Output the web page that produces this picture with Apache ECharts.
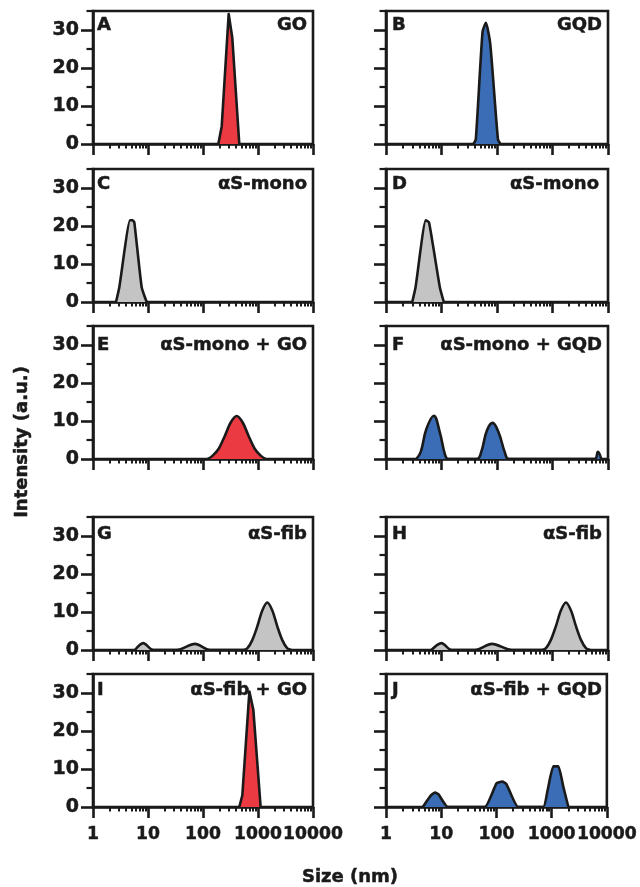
<!DOCTYPE html>
<html><head><meta charset="utf-8">
<script src="https://cdn.jsdelivr.net/npm/echarts@6/dist/echarts.min.js"></script>
<style>html,body{margin:0;padding:0;background:#fff}#c{width:640px;height:887px}</style>
</head><body><div id="c"></div>
<script>
// ---- tick labels ----
const xTicks = [1, 10, 100, 1000, 10000];
const yTicks = [0, 10, 20, 30];
const yMinorTicks = [5, 15, 25, 35];
const minorMultipliers = [2, 3, 4, 5, 6, 7, 8, 9];

// ---- panel labels ----
const panelLetters = ['A', 'B', 'C', 'D', 'E', 'F', 'G', 'H', 'I', 'J'];
const panelTitles = ['GO', 'GQD', 'αS-mono', 'αS-mono', 'αS-mono + GO', 'αS-mono + GQD',
  'αS-fib', 'αS-fib', 'αS-fib + GO', 'αS-fib + GQD'];

// ---- series data: size (nm) and intensity (a.u.) ----
const A_size = [190, 219, 293, 341, 457];
const A_int  = [0, 4.7, 34.2, 27.9, 0];
const B_size = [37.7, 41.5, 54.9, 63, 75.5, 104, 115];
const B_int  = [0, 1.2, 29.5, 31.9, 26.4, 1.2, 0];
const C_size = [2.62, 3.01, 4.71, 5.26, 5.65, 7.67, 9.46];
const C_int  = [0, 3.9, 21.5, 21.5, 20.9, 3.9, 0];
const D_size = [2.97, 3.41, 5.19, 5.97, 9.33, 11.0];
const D_int  = [0, 3.9, 21.5, 20.9, 3.9, 0];
const E_size = [122, 150, 193, 248, 319, 410, 527, 678, 871, 1119, 1380];
const E_int  = [0, 0.9, 2.7, 6.0, 9.6, 11.3, 9.6, 6.0, 2.7, 0.9, 0];
const F_size = [3.51, 4.21, 5.34, 7.26, 9.33, 11.5, 13.2, 43.3, 51.9, 65.8, 83.4, 107, 138, 163, 5730, 6580, 7560];
const F_int  = [0, 1.8, 7.9, 11.4, 7.0, 1.3, 0, 0, 1.8, 7.5, 9.5, 7.0, 1.8, 0, 0, 1.9, 0];
const G_size = [5.8, 8.2, 12.5, 33.2, 71.6, 134, 541, 638, 787, 971, 1197, 1476, 1820, 2244, 2767, 3412, 4027];
const G_int  = [0, 1.8, 0, 0, 1.6, 0, 0, 0.4, 2.6, 6.2, 10.4, 12.5, 10.4, 6.2, 2.6, 0.4, 0];
const H_size = [6.58, 10, 15.2, 40.3, 81.1, 187, 640, 755, 931, 1148, 1416, 1746, 2153, 2655, 3273, 4036, 4764];
const H_int  = [0, 1.8, 0, 0, 1.6, 0, 0, 0.4, 2.6, 6.2, 10.4, 12.5, 10.4, 6.2, 2.6, 0.4, 0];
const I_size = [457, 519, 697, 822, 1117];
const I_int  = [0, 3.1, 30.4, 25.6, 0];
const J_size = [4.64, 6.58, 7.78, 8.95, 13.2, 61.4, 100, 127, 152, 248, 705, 845, 1072, 1322, 1630, 2010];
const J_int  = [0, 3.1, 3.8, 3.3, 0, 0, 6.2, 6.7, 6.0, 0, 0, 4.4, 10.7, 10.7, 5.3, 0];

const panelSizes = [A_size, B_size, C_size, D_size, E_size, F_size, G_size, H_size, I_size, J_size];
const panelInts  = [A_int, B_int, C_int, D_int, E_int, F_int, G_int, H_int, I_int, J_int];

// ---- styles & layout ----
const RED = '#EC3A42', BLUE = '#3A6DB5', GRAY = '#C4C4C4', INK = '#1a1a1a';
const panelFill = [RED, BLUE, GRAY, GRAY, RED, BLUE, GRAY, GRAY, RED, BLUE];
const panelSmooth = [0, 0.2, 0.15, 0.15, 0.3, 0.4, 0.3, 0.3, 0, 0.15];
const FONT = '"DejaVu Sans", "Liberation Sans", sans-serif';
const colLeft = [93, 386], colWidth = [220, 222];
const rowTop = [11, 169, 326, 517, 674], plotH = 133;
const labelOffset = [14.5, 15, 19, 17.5, 16];
const titleInset = [6, 6, 6, 9, 6, 6, 6, 6, 6, 6];
const TXT = { color: INK, fontFamily: FONT, fontWeight: 'bold', textBorderColor: INK, textBorderWidth: 0.5 };

const minorX = [];
for (let d = 0; d < xTicks.length - 1; d++) {
  minorMultipliers.forEach(m => minorX.push(Math.log10(m * xTicks[d])));
}

const grids = [], xAxes = [], yAxes = [], series = [], graphics = [];
for (let i = 0; i < 10; i++) {
  const row = Math.floor(i / 2), col = i % 2;
  const left = colLeft[col], top = rowTop[row], width = colWidth[col];
  grids.push({ left, top, width, height: plotH, show: true, borderColor: INK, borderWidth: 2.6, backgroundColor: 'transparent' });
  xAxes.push({
    type: 'log', logBase: 10, gridIndex: i, min: xTicks[0], max: xTicks[xTicks.length - 1], position: 'bottom',
    axisLine: { show: true, onZero: false, lineStyle: { color: INK, width: 2.6 } },
    axisTick: { show: true, inside: false, length: 11, lineStyle: { color: INK, width: 2.6 } },
    axisLabel: Object.assign({ show: row === 4, margin: 19, fontSize: 17.2, hideOverlap: false,
      formatter: v => String(Math.round(v)) }, TXT),
    splitLine: { show: false }, minorTick: { show: false }
  });
  xAxes.push({
    type: 'value', gridIndex: i, min: 0, max: xTicks.length - 1, position: 'bottom',
    axisLine: { show: false, onZero: false },
    axisTick: { show: true, length: 4.5, customValues: minorX, lineStyle: { color: INK, width: 2 } },
    axisLabel: { show: false }, splitLine: { show: false }
  });
  yAxes.push({
    type: 'value', gridIndex: i, min: 0, max: 35, interval: 5, position: 'left',
    axisLine: { show: true, onZero: false, lineStyle: { color: INK, width: 2.6 } },
    axisTick: { show: true, length: 12, customValues: yTicks, lineStyle: { color: INK, width: 2.6 } },
    axisLabel: Object.assign({ show: col === 0, customValues: yTicks, margin: 14, fontSize: 19 }, TXT),
    splitLine: { show: false }
  });
  yAxes.push({
    type: 'value', gridIndex: i, min: 0, max: 35, position: 'left',
    axisLine: { show: false, onZero: false },
    axisTick: { show: true, length: 6.5, customValues: yMinorTicks, lineStyle: { color: INK, width: 2.2 } },
    axisLabel: { show: false }, splitLine: { show: false }
  });
  series.push({
    type: 'line', xAxisIndex: 2 * i, yAxisIndex: 2 * i,
    data: panelSizes[i].map((s, k) => [s, panelInts[i][k]]),
    showSymbol: false, symbol: 'none', smooth: panelSmooth[i], silent: true,
    lineStyle: { color: INK, width: 2.6, join: 'round' },
    areaStyle: { color: panelFill[i], opacity: 1 }
  });
  const cy = top + labelOffset[row];
  const ts = { fill: INK, font: 'bold 18px ' + FONT, stroke: INK, lineWidth: 0.5, verticalAlign: 'middle', textVerticalAlign: 'middle' };
  graphics.push({ type: 'text', x: left + (col === 0 ? 4 : 6), y: cy,
    style: Object.assign({ text: panelLetters[i], align: 'left', textAlign: 'left' }, ts) });
  graphics.push({ type: 'text', x: left + width - titleInset[i], y: cy,
    style: Object.assign({ text: panelTitles[i], align: 'right', textAlign: 'right' }, ts) });
}
const ns = { fill: INK, font: 'bold 18px ' + FONT, stroke: INK, lineWidth: 0.5, align: 'center', textAlign: 'center', verticalAlign: 'middle', textVerticalAlign: 'middle' };
graphics.push({ type: 'text', x: 350, y: 877, style: Object.assign({ text: 'Size (nm)' }, ns) });
graphics.push({ type: 'text', x: 22, y: 442, rotation: Math.PI / 2, style: Object.assign({ text: 'Intensity (a.u.)' }, ns) });

const chart = echarts.init(document.getElementById('c'), null, { renderer: 'canvas' });
chart.setOption({
  animation: false, backgroundColor: '#fff',
  grid: grids, xAxis: xAxes, yAxis: yAxes, series, graphic: graphics
});
</script></body></html>
